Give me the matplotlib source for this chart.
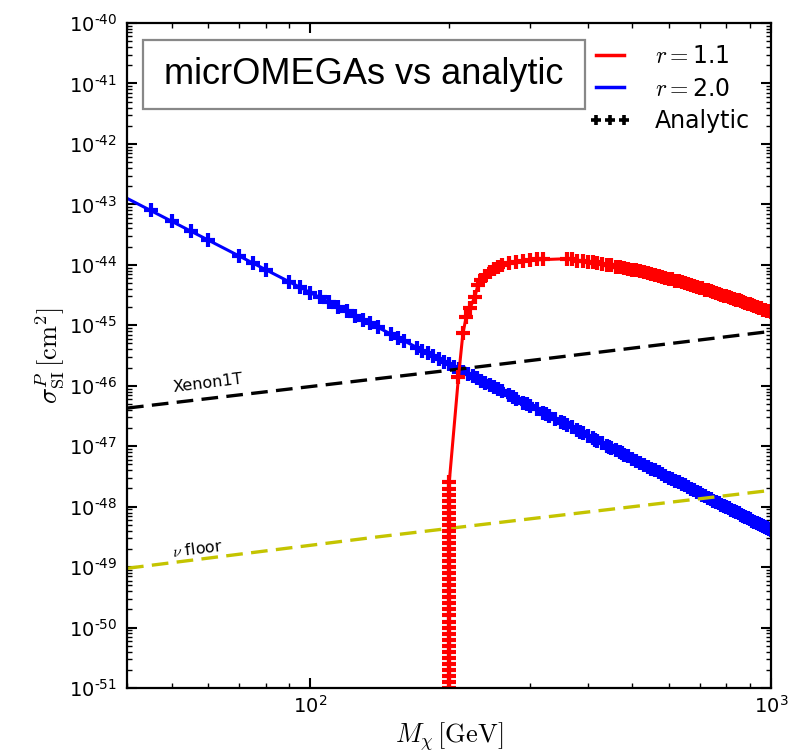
import numpy as np
import matplotlib
matplotlib.use('Agg')
import matplotlib.pyplot as plt
from matplotlib.lines import Line2D
from matplotlib.patches import Rectangle
from matplotlib.ticker import LogLocator, FixedLocator, FuncFormatter, NullFormatter

plt.rcParams['mathtext.fontset'] = 'cm'
plt.rcParams['font.family'] = ['DejaVu Sans']

# axis ticks
x_ticks = [1e2, 1e3]
y_ticks = [1e-51, 1e-50, 1e-49, 1e-48, 1e-47, 1e-46, 1e-45, 1e-44, 1e-43, 1e-42, 1e-41, 1e-40]

# micrOMEGAs curves (mass in GeV, log10 sigma)
blue_line_m = [40, 100, 200, 400, 1000]
blue_line_log = [-42.90, -44.46, -45.64, -46.83, -48.39]

red_line_m = [200, 200.2, 209.7, 214.4, 218, 222, 227.5, 231, 240, 250, 260, 280, 300,
              330, 357, 400, 460, 500, 600, 700, 800, 900, 1000]
red_line_log = [-53.0, -47.6, -45.85, -45.13, -44.86, -44.72, -44.53, -44.34, -44.18,
                -44.07, -44.00, -43.95, -43.92, -43.91, -43.90, -43.95, -44.03, -44.08,
                -44.23, -44.38, -44.52, -44.65, -44.78]

# scan masses above 500 GeV (shared by both analytic sets)
scan_hi_m = [510, 520, 530, 540, 550, 560, 570, 580, 590, 600, 610, 620, 630, 640, 650,
             660, 670, 680, 690, 700, 710, 720, 730, 740, 750, 760, 770, 780, 790, 800,
             810, 820, 830, 840, 850, 860, 870, 880, 890, 900, 910, 920, 930, 940, 950,
             960, 970, 980, 990, 1000]

# analytic points, r = 2.0
blue_lo_m = [45, 50, 55, 60, 70, 75, 80, 90, 95, 100, 105, 110, 115, 120, 125, 130, 135,
             140, 150, 155, 160, 170, 175, 180, 185, 190, 195, 200, 205, 210, 215, 220,
             225, 230, 235, 240, 245, 250, 255, 260, 270, 275, 280, 290, 295, 300, 310,
             320, 325, 330, 340, 350, 355, 360, 370, 380, 385, 390, 400, 410, 415, 420,
             430, 440, 445, 450, 460, 470, 475, 480, 490, 500]
blue_lo_log = [-43.10, -43.28, -43.44, -43.59, -43.85, -43.97, -44.08, -44.28, -44.37,
               -44.46, -44.54, -44.62, -44.70, -44.77, -44.84, -44.91, -44.97, -45.03,
               -45.15, -45.21, -45.26, -45.37, -45.42, -45.46, -45.51, -45.56, -45.60,
               -45.64, -45.69, -45.73, -45.77, -45.81, -45.84, -45.88, -45.92, -45.95,
               -45.99, -46.02, -46.06, -46.09, -46.16, -46.19, -46.22, -46.28, -46.31,
               -46.34, -46.39, -46.45, -46.47, -46.50, -46.55, -46.60, -46.62, -46.65,
               -46.69, -46.74, -46.76, -46.78, -46.83, -46.87, -46.89, -46.91, -46.95,
               -46.99, -47.01, -47.03, -47.07, -47.10, -47.12, -47.14, -47.17, -47.21]
blue_hi_log = [-47.24, -47.27, -47.31, -47.34, -47.37, -47.40, -47.43, -47.46, -47.49,
               -47.52, -47.55, -47.57, -47.60, -47.63, -47.65, -47.68, -47.71, -47.73,
               -47.76, -47.78, -47.81, -47.83, -47.85, -47.88, -47.90, -47.92, -47.94,
               -47.97, -47.99, -48.01, -48.03, -48.05, -48.07, -48.09, -48.11, -48.13,
               -48.15, -48.17, -48.19, -48.21, -48.23, -48.25, -48.27, -48.28, -48.30,
               -48.32, -48.34, -48.36, -48.37, -48.39]

# analytic points, r = 1.1
red_thr_log = [-51.4, -51.3, -51.2, -51.1, -51.0, -50.9, -50.8, -50.7, -50.6, -50.5,
               -50.4, -50.3, -50.2, -50.1, -50.0, -49.9, -49.8, -49.7, -49.6, -49.5,
               -49.4, -49.3, -49.2, -49.1, -49.0, -48.9, -48.8, -48.7, -48.6, -48.5,
               -48.4, -48.3, -48.2, -48.1, -48.0, -47.9, -47.8, -47.7, -47.6]
red_lo_m = [209.7, 214.4, 218, 222, 227.5, 231, 235, 240, 245, 250, 255, 260, 270, 280,
            290, 300, 310, 320, 360, 370, 380, 390, 400, 410, 420, 430, 440, 450, 460,
            470, 480, 490, 500]
red_lo_log = [-45.85, -45.13, -44.86, -44.72, -44.53, -44.34, -44.25, -44.18, -44.12,
              -44.07, -44.03, -44.00, -43.97, -43.95, -43.93, -43.92, -43.91, -43.91,
              -43.90, -43.91, -43.93, -43.94, -43.95, -43.96, -43.97, -43.99, -44.00,
              -44.01, -44.03, -44.04, -44.06, -44.07, -44.08]
red_hi_log = [-44.09, -44.10, -44.12, -44.13, -44.15, -44.17, -44.18, -44.20, -44.21,
              -44.23, -44.24, -44.26, -44.27, -44.29, -44.30, -44.32, -44.33, -44.35,
              -44.36, -44.38, -44.39, -44.41, -44.42, -44.44, -44.45, -44.47, -44.48,
              -44.50, -44.51, -44.52, -44.54, -44.55, -44.56, -44.58, -44.59, -44.60,
              -44.62, -44.63, -44.64, -44.65, -44.67, -44.68, -44.70, -44.71, -44.72,
              -44.74, -44.75, -44.76, -44.77, -44.78]

# experimental limits
xenon_m = [40, 230, 1000]
xenon_log = [-46.37, -45.69, -45.10]
floor_m = [40, 140, 1000]
floor_log = [-49.02, -48.50, -47.73]


def sci_label(v, pos):
    e = int(round(np.log10(v)))
    s = ('\u2010%d' % -e) if e < 0 else '%d' % e
    return r'$\mathdefault{10^{%s}}$' % s


def main():
    fig = plt.figure(figsize=(8.06, 7.52), dpi=100)
    ax = fig.add_axes([0.1576, 0.0851, 0.7990, 0.8843])

    blue_m = blue_lo_m + scan_hi_m
    blue_log = blue_lo_log + blue_hi_log
    red_m = [200] * len(red_thr_log) + red_lo_m + scan_hi_m
    red_log = red_thr_log + red_lo_log + red_hi_log

    pm = dict(ls='none', marker='+', ms=9.5, mew=3.0)
    ax.plot(blue_line_m, 10.0 ** np.array(blue_line_log), color='#0000ff', lw=2.2)
    ax.plot(blue_m, 10.0 ** np.array(blue_log), color='#0000ff', **pm)
    ax.plot(xenon_m, 10.0 ** np.array(xenon_log), color='k', lw=2.4, dashes=(5, 2.5))
    ax.plot(floor_m, 10.0 ** np.array(floor_log), color='#c4c400', lw=2.4, dashes=(5, 2.5))
    ax.plot(red_line_m, 10.0 ** np.array(red_line_log), color='#ff0000', lw=2.2)
    ax.plot(red_m, 10.0 ** np.array(red_log), color='#ff0000', **pm)

    ax.set_xscale('log')
    ax.set_yscale('log')
    ax.set_xlim(40, 1000)
    ax.set_ylim(1e-51, 1e-40)

    ax.xaxis.set_major_locator(FixedLocator(x_ticks))
    ax.yaxis.set_major_locator(FixedLocator(y_ticks))
    ax.yaxis.set_minor_locator(LogLocator(base=10, subs=np.arange(2, 10), numticks=200))
    ax.xaxis.set_minor_locator(LogLocator(base=10, subs=np.arange(2, 10), numticks=200))
    ax.xaxis.set_major_formatter(FuncFormatter(sci_label))
    ax.yaxis.set_major_formatter(FuncFormatter(sci_label))
    ax.xaxis.set_minor_formatter(NullFormatter())
    ax.yaxis.set_minor_formatter(NullFormatter())

    ax.tick_params(which='both', direction='in', top=True, right=True, labelsize=14)
    ax.tick_params(which='major', length=7, width=1.5)
    ax.tick_params(which='minor', length=3.5, width=1.0)
    ax.tick_params(axis='y', pad=7)
    ax.tick_params(axis='x', pad=5)
    for sp in ax.spines.values():
        sp.set_linewidth(1.6)

    ax.set_xlabel(r'$M_\chi\,[\mathrm{GeV}]$', fontsize=19, labelpad=2)
    ax.set_ylabel(r'$\sigma^P_{\mathrm{SI}}\,[\mathrm{cm}^2]$', fontsize=19, labelpad=2)

    ax.text(60, 10 ** -45.955, 'Xenon1T', fontsize=11.5, rotation=7,
            ha='center', va='center')
    ax.text(57, 10 ** -48.70, r'$\nu$ floor', fontsize=11.5, rotation=7,
            ha='center', va='center')

    ax.add_patch(Rectangle((0.0244, 0.870), 0.687, 0.105, transform=ax.transAxes,
                           fill=False, edgecolor='#888888', lw=1.6, zorder=5))
    ax.text(0.368, 0.922, 'micrOMEGAs vs analytic', transform=ax.transAxes,
            fontsize=26, family='Liberation Sans', ha='center', va='center', zorder=6)

    handles = [Line2D([], [], color='#ff0000', lw=2.5),
               Line2D([], [], color='#0000ff', lw=2.5),
               Line2D([], [], color='k', ls='none', marker='+', ms=7.5, mew=2.6)]
    labels = [r'$r=$1.1', r'$r=$2.0', 'Analytic']
    ax.legend(handles, labels, loc='upper right', frameon=False, fontsize=17,
              numpoints=3, handlelength=1.8, handletextpad=1.0, labelspacing=0.35,
              borderaxespad=0.5)

    fig.savefig('out.png', dpi=100)


if __name__ == "__main__":
    main()
